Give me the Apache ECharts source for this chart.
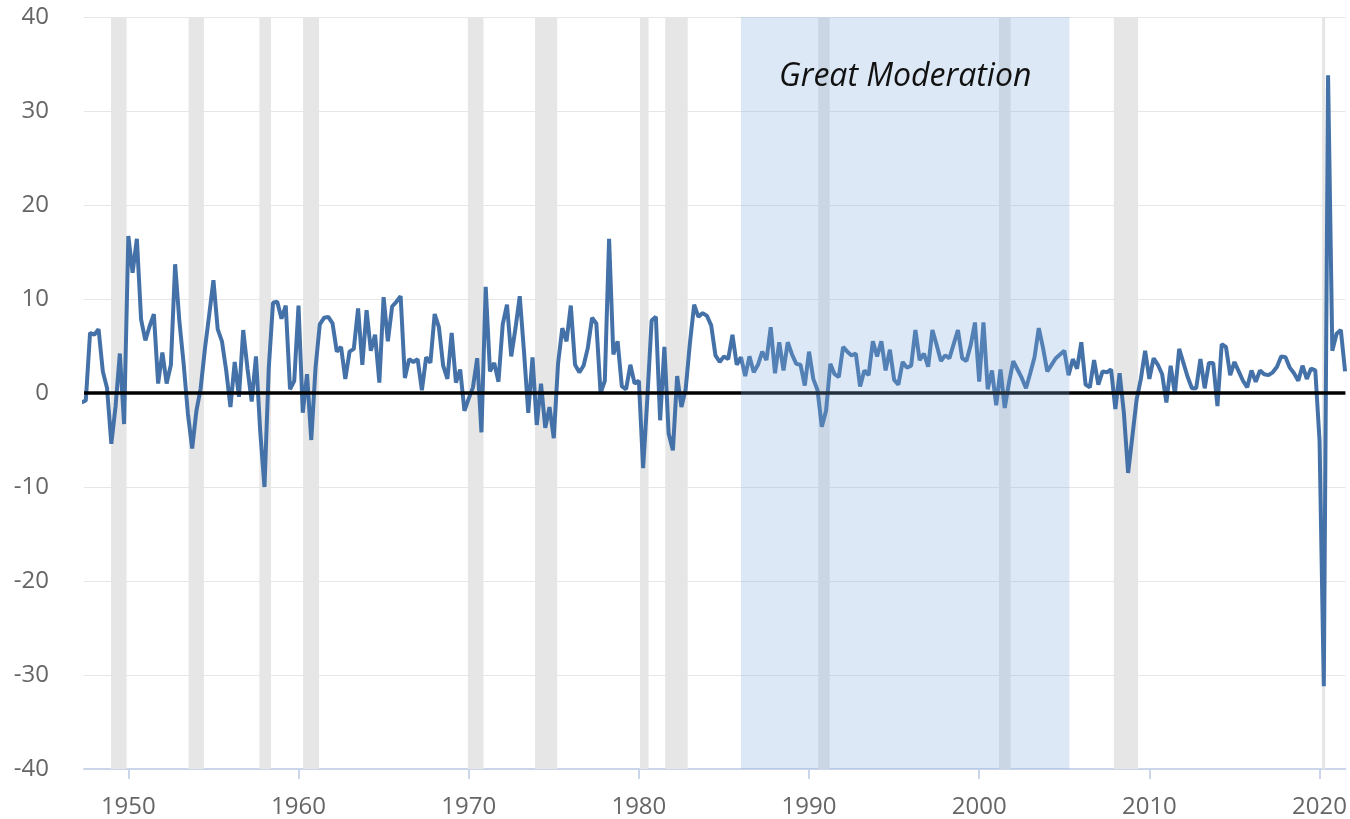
<!DOCTYPE html>
<html>
<head>
<meta charset="utf-8">
<script src="https://cdn.jsdelivr.net/npm/echarts@6/dist/echarts.min.js"></script>
<style>
  html, body { margin: 0; padding: 0; background: #fff; }
  #chart { width: 1350px; height: 819px; }
</style>
</head>
<body>
<div id="chart"></div>
<script>
// real GDP growth, % change at annual rate, quarterly, starting 1947 Q2
var firstQuarter = 1947.25;
var gdpGrowth = [
  -1.0, -0.8, 6.4,
  6.2, 6.8, 2.3, 0.5,
  -5.4, -1.4, 4.2, -3.3,
  16.7, 12.8, 16.4, 7.8,
  5.6, 7.1, 8.4, 1.0,
  4.3, 1.0, 3.0, 13.7,
  7.6, 3.1, -2.2, -5.9,
  -1.9, 0.5, 4.7, 8.3,
  12.0, 6.8, 5.5, 2.4,
  -1.5, 3.3, -0.4, 6.7,
  2.6, -0.9, 3.9, -4.1,
  -10.0, 2.6, 9.6, 9.7,
  7.9, 9.3, 0.4, 1.3,
  9.3, -2.1, 2.0, -5.0,
  2.7, 7.3, 8.0, 8.1,
  7.4, 4.4, 4.9, 1.5,
  4.4, 4.7, 9.0, 3.0,
  8.8, 4.5, 6.2, 1.1,
  10.2, 5.5, 9.2, 9.7,
  10.3, 1.6, 3.6, 3.3,
  3.6, 0.3, 3.8, 3.2,
  8.4, 7.0, 2.9, 1.5,
  6.4, 1.1, 2.5, -1.9,
  -0.6, 0.6, 3.7, -4.2,
  11.3, 2.3, 3.2, 1.2,
  7.3, 9.4, 3.9, 6.9,
  10.3, 4.4, -2.1, 3.8,
  -3.4, 1.0, -3.7, -1.5,
  -4.8, 3.1, 6.9, 5.5,
  9.3, 3.0, 2.2, 2.9,
  4.8, 8.0, 7.4, 0.0,
  1.3, 16.4, 4.1, 5.5,
  0.7, 0.4, 3.0, 1.0,
  1.3, -8.0, -0.5, 7.7,
  8.1, -2.9, 4.9, -4.3,
  -6.1, 1.8, -1.5, 0.4,
  5.3, 9.4, 8.1, 8.5,
  8.2, 7.2, 4.0, 3.3,
  3.9, 3.6, 6.2, 3.0,
  3.8, 1.8, 3.9, 2.2,
  3.0, 4.4, 3.5, 7.0,
  2.1, 5.4, 2.4, 5.4,
  4.1, 3.1, 3.0, 0.8,
  4.4, 1.5, 0.3, -3.6,
  -1.9, 3.1, 2.0, 1.7,
  4.9, 4.4, 4.0, 4.2,
  0.7, 2.4, 1.9, 5.5,
  3.9, 5.5, 2.4, 4.6,
  1.4, 0.9, 3.3, 2.7,
  2.9, 6.7, 3.5, 4.2,
  2.8, 6.7, 5.1, 3.4,
  4.0, 3.7, 5.2, 6.7,
  3.7, 3.4, 5.1, 7.5,
  1.2, 7.5, 0.4, 2.4,
  -1.3, 2.5, -1.6, 1.1,
  3.4, 2.5, 1.6, 0.5,
  2.1, 3.8, 6.9, 4.8,
  2.3, 3.0, 3.7, 4.1,
  4.5, 1.9, 3.6, 2.6,
  5.4, 0.9, 0.6, 3.5,
  0.9, 2.3, 2.2, 2.5,
  -1.7, 2.1, -2.1, -8.5,
  -4.6, -0.7, 1.5, 4.5,
  1.5, 3.7, 3.0, 2.0,
  -1.0, 2.9, -0.1, 4.7,
  3.2, 1.7, 0.5, 0.5,
  3.6, 0.5, 3.2, 3.2,
  -1.4, 5.2, 4.9, 1.9,
  3.3, 2.3, 1.3, 0.6,
  2.4, 1.2, 2.4, 2.0,
  1.9, 2.2, 2.8, 3.9,
  3.8, 2.7, 2.1, 1.3,
  2.9, 1.5, 2.6, 2.4,
  -5.1, -31.2, 33.8, 4.5,
  6.3, 6.7, 2.3
];

// recession shading (decimal years)
var recessionStart = [1948.98, 1953.54, 1957.70, 1960.27, 1969.95, 1973.90, 1980.07, 1981.55, 1990.54, 2001.16, 2007.91, 2020.15];
var recessionEnd   = [1949.90, 1954.44, 1958.38, 1961.21, 1970.87, 1975.20, 1980.57, 1982.87, 1991.21, 2001.84, 2009.34, 2020.33];

// great moderation period
var moderationStart = [1986.0];
var moderationEnd = [2005.3];
var moderationLabel = 'Great Moderation';

var zeroLevel = [0];
var yearTicks = [1950, 1960, 1970, 1980, 1990, 2000, 2010, 2020];
var xMin = 1947.394, xMax = 2021.52;
var yMin = -40, yMax = 40;

var lineData = gdpGrowth.map(function (v, i) { return [firstQuarter + i * 0.25, v]; });
var recessionData = recessionStart.map(function (s, i) { return [s, recessionEnd[i]]; });
var moderationData = moderationStart.map(function (s, i) { return [s, moderationEnd[i]]; });

var chart = echarts.init(document.getElementById('chart'));

// shaded vertical span from value(0) to value(1) across the whole plot
function spanRect(api, fill) {
  var p0 = api.coord([api.value(0), yMax]);
  var p1 = api.coord([api.value(1), yMin]);
  return {
    type: 'rect',
    shape: { x: p0[0], y: p0[1], width: p1[0] - p0[0], height: p1[1] - p0[1] },
    style: { fill: fill }
  };
}

var option = {
  animation: false,
  grid: { left: 84, right: 0, top: 17, bottom: 50 },
  xAxis: {
    type: 'value',
    min: xMin,
    max: xMax,
    axisLine: { show: true, onZero: false, lineStyle: { color: '#ccd6eb', width: 2 } },
    axisTick: { show: true, length: 10, customValues: yearTicks, lineStyle: { color: '#ccd6eb', width: 2 } },
    axisLabel: {
      customValues: yearTicks,
      margin: 26,
      color: '#666',
      fontSize: 24,
      fontFamily: 'Open Sans',
      formatter: function (v) { return String(v); }
    },
    splitLine: { show: false }
  },
  yAxis: {
    type: 'value',
    min: yMin,
    max: yMax,
    interval: 10,
    axisLine: { show: false },
    axisTick: { show: false },
    axisLabel: { margin: 35, color: '#666', fontSize: 24, fontFamily: 'Open Sans' },
    splitLine: { lineStyle: { color: '#e6e6e6', width: 1 } }
  },
  series: [
    {
      // recession bars
      type: 'custom',
      z: 1,
      silent: true,
      data: recessionData,
      encode: { x: [0, 1] },
      renderItem: function (params, api) {
        return spanRect(api, '#e6e6e6');
      }
    },
    {
      name: 'Real GDP growth',
      type: 'line',
      z: 2,
      data: lineData,
      showSymbol: false,
      symbol: 'none',
      lineStyle: { color: '#4472a8', width: 4 }
    },
    {
      // zero line
      type: 'custom',
      z: 3,
      silent: true,
      data: zeroLevel.map(function (v) { return [v]; }),
      encode: { y: 0 },
      renderItem: function (params, api) {
        var y = api.coord([xMin, api.value(0)])[1];
        var cs = params.coordSys;
        return {
          type: 'line',
          shape: { x1: cs.x, y1: y, x2: cs.x + cs.width, y2: y },
          style: { stroke: '#000', lineWidth: 3.5 }
        };
      }
    },
    {
      // great moderation overlay
      type: 'custom',
      z: 10,
      silent: true,
      data: moderationData,
      encode: { x: [0, 1] },
      renderItem: function (params, api) {
        var rect = spanRect(api, 'rgba(124,170,222,0.27)');
        return {
          type: 'group',
          children: [
            rect,
            {
              type: 'text',
              x: rect.shape.x + rect.shape.width / 2,
              y: rect.shape.y + 60,
              style: {
                text: moderationLabel,
                font: 'italic 32px "Open Sans"',
                fill: '#111',
                align: 'center',
                verticalAlign: 'middle'
              }
            }
          ]
        };
      }
    }
  ]
};

chart.setOption(option);
</script>
</body>
</html>
